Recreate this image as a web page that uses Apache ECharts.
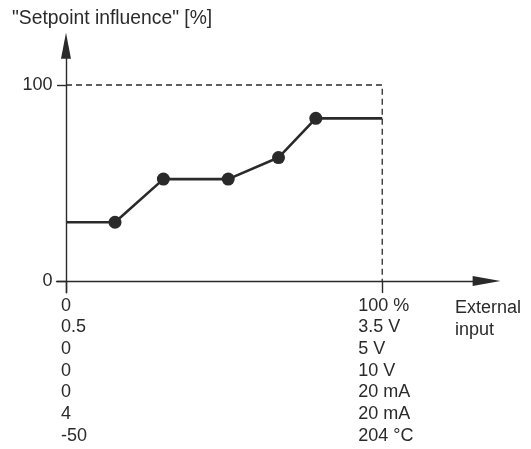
<!DOCTYPE html>
<html>
<head>
<meta charset="utf-8">
<script src="https://cdn.jsdelivr.net/npm/echarts@6/dist/echarts.min.js"></script>
<style>
html,body{margin:0;padding:0;background:#fff;}
#chart{width:531px;height:449px;}
</style>
</head>
<body>
<div id="chart"></div>
<script>
// ---- data ----
const inputPct = [0, 15.5, 30.8, 51.3, 67.2, 79, 100];
const influencePct = [30, 30, 52, 52, 63, 83, 83];
const knotFlags = [false, true, true, true, true, true, false];
const guideX = [0, 100, 100];
const guideY = [100, 100, 0];
const scaleStart = ['0', '0.5', '0', '0', '0', '4', '-50'];
const scaleEnd = ['100 %', '3.5 V', '5 V', '10 V', '20 mA', '20 mA', '204 °C'];
const yTickLabels = ['0', '100'];
const yTickValues = [0, 100];
const xTickValues = [0, 100];
const yTitle = '"Setpoint influence" [%]';
const xTitle = 'External\ninput';

// ---- build ----
const INK = '#2a2a2a';
const FONT = "'Liberation Sans', Arial, sans-serif";
const lineData = inputPct.map((x, i) => [x, influencePct[i]]);
const knotData = inputPct.map((x, i) => [x, influencePct[i]]).filter((_, i) => knotFlags[i]);
const guideData = guideX.map((x, i) => [x, guideY[i]]);

const chart = echarts.init(document.getElementById('chart'), null, {renderer: 'canvas'});
chart.setOption({
  animation: false,
  backgroundColor: '#fff',
  textStyle: {fontFamily: FONT},
  title: {
    text: yTitle, left: 12, top: 9, padding: 0,
    textStyle: {fontSize: 19.3, fontWeight: 'normal', color: INK, fontFamily: FONT}
  },
  grid: {left: 56.5, right: 44.4, top: 45.8, bottom: 156.2, containLabel: false, outerBoundsMode: 'none'},
  xAxis: {
    type: 'value', min: -3, max: 133,
    name: xTitle, nameLocation: 'end', nameGap: -31.6, nameMoveOverlap: false,
    nameTextStyle: {align: 'left', verticalAlign: 'top', fontSize: 18, lineHeight: 21.7, padding: [16, 0, 0, 0], color: INK, fontFamily: FONT},
    axisLine: {onZero: true, symbol: ['none', 'triangle'], symbolSize: [10, 28], lineStyle: {color: INK, width: 1.4}},
    axisTick: {show: true, customValues: xTickValues, length: 12, lineStyle: {color: INK, width: 1.4}},
    axisLabel: {
      customValues: xTickValues, margin: 2, align: 'center', color: INK, fontSize: 18, fontFamily: FONT,
      formatter: function (v) {
        const arr = v === 0 ? scaleStart : scaleEnd;
        const key = v === 0 ? 'a' : 'b';
        return arr.map(s => '{' + key + '|' + s + '}').join('\n');
      },
      rich: {
        a: {width: 10, align: 'left', fontSize: 18, lineHeight: 21.7, color: INK, fontFamily: FONT},
        b: {width: 48, align: 'left', fontSize: 18, lineHeight: 21.7, color: INK, fontFamily: FONT}
      }
    },
    splitLine: {show: false}
  },
  yAxis: {
    type: 'value', min: -6, max: 120,
    axisLine: {onZero: true, symbol: ['none', 'triangle'], symbolSize: [10, 26], lineStyle: {color: INK, width: 1.4}},
    axisTick: {show: true, customValues: yTickValues, length: 9, lineStyle: {color: INK, width: 1.4}},
    axisLabel: {
      customValues: yTickValues, margin: 4, color: INK, fontSize: 18, fontFamily: FONT,
      formatter: function (v) { return yTickLabels[yTickValues.indexOf(v)]; }
    },
    splitLine: {show: false}
  },
  series: [
    {
      type: 'line', data: guideData, symbol: 'none', silent: true,
      lineStyle: {color: INK, width: 1.3, type: [6, 4]}
    },
    {
      type: 'line', data: lineData, symbol: 'none',
      lineStyle: {color: INK, width: 2.6}
    },
    {
      type: 'scatter', data: knotData, symbol: 'circle', symbolSize: 13,
      itemStyle: {color: INK, opacity: 1}
    }
  ]
});
</script>
</body>
</html>
